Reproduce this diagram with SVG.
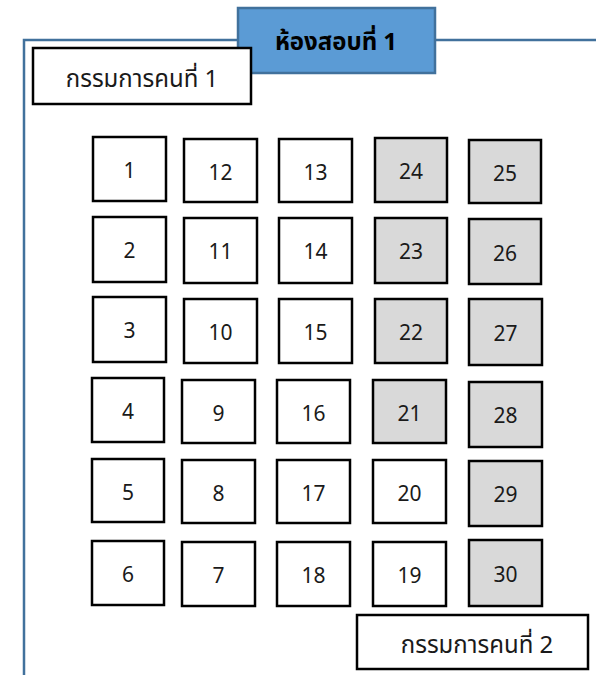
<svg xmlns="http://www.w3.org/2000/svg" width="596" height="675" viewBox="0 0 596 675">
<style>
.frame{fill:none;stroke:#41719C;stroke-width:2.5}
.seat rect{fill:#FFFFFF;stroke:#000000;stroke-width:2.5}
.seat.g rect{fill:#D9D9D9}
.seat text{font-family:"Noto Sans Thai","Leelawadee UI","Noto Sans","DejaVu Sans",sans-serif;font-size:21px;fill:#1a1a1a;text-anchor:middle}
.lbl rect{fill:#FFFFFF;stroke:#000000;stroke-width:2.5}
.lbl text{font-family:"Noto Sans Thai","Leelawadee UI","Noto Sans","DejaVu Sans",sans-serif;font-size:24px;fill:#1a1a1a;text-anchor:middle}
.title rect{fill:#5B9BD5;stroke:#41719C;stroke-width:2.5}
.title text{font-family:"Noto Sans Thai","Leelawadee UI","Noto Sans","DejaVu Sans",sans-serif;font-size:24px;font-weight:bold;fill:#000000;text-anchor:middle}
</style>
<rect width="596" height="675" fill="#FFFFFF"/>
<g id="connectors">
<path class="frame" d="M24,675 V40 H596"/>
</g>
<g id="title" class="title"><rect x="238" y="8" width="197" height="65"/><text x="336" y="50">ห้องสอบที่ 1</text></g>
<g id="committee1" class="lbl"><rect x="33" y="48" width="218" height="56"/><text x="142" y="87">กรรมการคนที่ 1</text></g>
<g id="committee2" class="lbl"><rect x="357" y="615" width="231" height="54"/><text x="477" y="653">กรรมการคนที่ 2</text></g>

<g id="seat1" class="seat"><rect x="93" y="137" width="73" height="64"/><text x="129.5" y="178">1</text></g>
<g id="seat12" class="seat"><rect x="184" y="139" width="73" height="63"/><text x="220.5" y="180">12</text></g>
<g id="seat13" class="seat"><rect x="279" y="139" width="73" height="63"/><text x="315.5" y="180">13</text></g>
<g id="seat24" class="seat g"><rect x="375" y="138" width="72" height="64"/><text x="411" y="179">24</text></g>
<g id="seat25" class="seat g"><rect x="469" y="140" width="72" height="63"/><text x="505" y="181">25</text></g>

<g id="seat2" class="seat"><rect x="93" y="217" width="73" height="65"/><text x="129.5" y="258">2</text></g>
<g id="seat11" class="seat"><rect x="184" y="218" width="73" height="65"/><text x="220.5" y="259">11</text></g>
<g id="seat14" class="seat"><rect x="279" y="218" width="73" height="65"/><text x="315.5" y="259">14</text></g>
<g id="seat23" class="seat g"><rect x="375" y="218" width="72" height="65"/><text x="411" y="259">23</text></g>
<g id="seat26" class="seat g"><rect x="469" y="219" width="72" height="65"/><text x="505" y="261">26</text></g>

<g id="seat3" class="seat"><rect x="93" y="297" width="73" height="65"/><text x="129.5" y="338">3</text></g>
<g id="seat10" class="seat"><rect x="184" y="299" width="73" height="64"/><text x="220.5" y="340">10</text></g>
<g id="seat15" class="seat"><rect x="279" y="299" width="73" height="64"/><text x="315.5" y="340">15</text></g>
<g id="seat22" class="seat g"><rect x="375" y="299" width="72" height="64"/><text x="411" y="340">22</text></g>
<g id="seat27" class="seat g"><rect x="469" y="299" width="73" height="66"/><text x="505.5" y="341">27</text></g>

<g id="seat4" class="seat"><rect x="92" y="378" width="72" height="64"/><text x="128" y="419">4</text></g>
<g id="seat9" class="seat"><rect x="182" y="380" width="73" height="63"/><text x="218.5" y="421">9</text></g>
<g id="seat16" class="seat"><rect x="277" y="380" width="73" height="63"/><text x="313.5" y="421">16</text></g>
<g id="seat21" class="seat g"><rect x="373" y="380" width="73" height="63"/><text x="409.5" y="421">21</text></g>
<g id="seat28" class="seat g"><rect x="469" y="382" width="73" height="65"/><text x="505.5" y="423">28</text></g>

<g id="seat5" class="seat"><rect x="92" y="459" width="72" height="63"/><text x="128" y="500">5</text></g>
<g id="seat8" class="seat"><rect x="182" y="460" width="73" height="63"/><text x="218.5" y="501">8</text></g>
<g id="seat17" class="seat"><rect x="277" y="460" width="73" height="63"/><text x="313.5" y="501">17</text></g>
<g id="seat20" class="seat"><rect x="373" y="460" width="73" height="63"/><text x="409.5" y="501">20</text></g>
<g id="seat29" class="seat g"><rect x="469" y="461" width="73" height="65"/><text x="505.5" y="502">29</text></g>

<g id="seat6" class="seat"><rect x="92" y="541" width="72" height="64"/><text x="128" y="582">6</text></g>
<g id="seat7" class="seat"><rect x="182" y="542" width="73" height="64"/><text x="218.5" y="583">7</text></g>
<g id="seat18" class="seat"><rect x="277" y="542" width="73" height="64"/><text x="313.5" y="583">18</text></g>
<g id="seat19" class="seat"><rect x="373" y="542" width="73" height="64"/><text x="409.5" y="583">19</text></g>
<g id="seat30" class="seat g"><rect x="469" y="540" width="73" height="66"/><text x="505.5" y="582">30</text></g>
</svg>
